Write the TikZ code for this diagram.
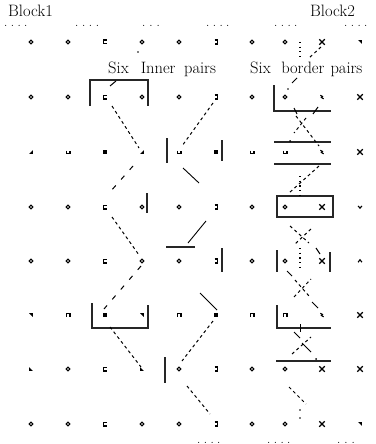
\documentclass[tikz,border=0pt]{standalone}
\usetikzlibrary{shapes.misc}
\newcommand\seglink[4]{\coordinate (#2a) at (#3); \coordinate (#2b) at (#4); \draw[#1] (#2a) -- (#2b);}
\begin{document}
\begin{tikzpicture}[x=1pt,y=-1pt,
  lbl/.style={font=\fontsize{16.5}{18}\selectfont, inner sep=0pt, anchor=base west},
  dots/.style={font=\fontsize{12}{12}\selectfont, inner sep=0pt, anchor=base west},
  mk/.style={inner sep=0pt, minimum size=6.5pt},
  dia/.style={circle, draw, inner sep=0pt, minimum size=3.8pt, line width=1.1pt},
  sqm/.style={rectangle, fill, inner sep=0pt, minimum size=3.6pt},
  crs/.style={cross out, draw, inner sep=0pt, minimum size=4.4pt, line width=1.1pt},
  ebr/.style={mk, path picture={\draw[line width=1.2pt] ([shift={(1.5pt,1.9pt)}]path picture bounding box.center) -- ++(-2.8pt,0pt) -- ++(0pt,-3.8pt) -- ++(2.8pt,0pt);}},
  rbr/.style={mk, path picture={\draw[line width=1.3pt] ([shift={(-1.5pt,1.9pt)}]path picture bounding box.center) -- ++(2.8pt,0pt) -- ++(0pt,-3.8pt) -- ++(-2.8pt,0pt);}},
  shm/.style={mk, path picture={\draw[line width=1.2pt] ([shift={(-1.9pt,1.5pt)}]path picture bounding box.center) -- ++(0pt,-3pt) -- ++(3.8pt,0pt) -- ++(0pt,3pt);}},
  pim/.style={mk, path picture={\draw[line width=1.2pt] ([shift={(-1.9pt,-1.5pt)}]path picture bounding box.center) -- ++(0pt,3pt) -- ++(3.8pt,0pt) -- ++(0pt,-3pt);}},
  tru/.style={mk, path picture={\fill ([shift={(-1.9pt,1.9pt)}]path picture bounding box.center) -- ++(3.8pt,0pt) -- ++(0pt,-3.8pt) -- cycle;}},
  trs/.style={mk, path picture={\fill ([shift={(1.9pt,1.9pt)}]path picture bounding box.center) -- ++(0pt,-3.8pt) -- ++(-3.8pt,0pt) -- cycle;}},
  trl/.style={mk, path picture={\fill ([shift={(-1.9pt,1.9pt)}]path picture bounding box.center) -- ++(0pt,-3.8pt) -- ++(3.8pt,0pt) -- cycle;}},
  hk/.style={mk, path picture={\draw[line width=1.1pt] ([shift={(-1.7pt,1.7pt)}]path picture bounding box.center) -- ++(2.2pt,-1.1pt) -- ++(-1.1pt,-1.1pt) -- ++(2.3pt,-1.3pt);}},
  vv/.style={mk, path picture={\draw[line width=1.1pt] ([shift={(-1.9pt,1.1pt)}]path picture bounding box.center) -- ++(1.9pt,-2.3pt) -- ++(1.9pt,2.3pt);}},
  aa/.style={mk, path picture={\draw[line width=1.1pt] ([shift={(-1.9pt,-1.2pt)}]path picture bounding box.center) -- ++(1.9pt,2.5pt) -- ++(1.9pt,-2.5pt);}},
  barl/.style={line width=1.5pt, black!85},
  sln/.style={line width=0.9pt},
  dsh/.style={line width=1pt, dash pattern=on 3pt off 3pt},
  cdsh/.style={line width=1pt, dash pattern=on 5pt off 8pt},
  dott/.style={line width=1.1pt, dash pattern=on 1.1pt off 3.6pt},
  tk/.style={line width=1pt}]
\useasboundingbox (0,0) rectangle (375,444);

% labels
\node[lbl] (blk1) at (8,17) {Block1};
\node[lbl] (blk2) at (310,17) {Block2};
\node[lbl] (inner) at (108,74) {Six\hspace{12pt}Inner\hspace{8.5pt}pairs};
\node[lbl] (border) at (250,74) {Six\hspace{10.5pt}border\hspace{6pt}pairs};

% dotted text
\node[dots] (td1) at (4,27) {.\kern3.4pt.\kern3.4pt.\kern3.4pt.};
\node[dots] (td2) at (75,27) {.\kern3.6pt.\kern3.6pt.\kern3.6pt.};
\node[dots] (td3) at (142,27) {.\kern4pt.\kern4pt.};
\node[dots] (td4) at (206,27) {.\kern3.4pt.\kern3.4pt.\kern3.4pt.};
\node[dots] (td5) at (274,27) {.\kern3.4pt.\kern3.4pt.\kern3.4pt.};
\node[dots] (td6) at (344,27) {.\kern3.4pt.\kern3.4pt.\kern3.4pt.};
\node[dots] (bd1) at (197,443) {.\kern3.4pt.\kern3.4pt.\kern3.4pt.};
\node[dots] (bd2) at (267,443) {.\kern3.4pt.\kern3.4pt.\kern3.4pt.};
\node[dots] (bd3) at (337,443) {.\kern4pt.\kern4pt.};

% lattice markers
\foreach \r/\y/\lst in {
  1/42/{dia,dia,ebr,dia,dia,rbr,dia,dia,crs,tru},
  2/97/{dia,dia,ebr,dia,dia,rbr,dia,dia,hk,crs},
  3/152/{trs,shm,sqm,trs,shm,sqm,shm,shm,hk,crs},
  4/207/{dia,dia,ebr,dia,dia,rbr,dia,dia,crs,vv},
  5/261/{dia,dia,ebr,dia,dia,rbr,dia,dia,crs,aa},
  6/315/{tru,pim,sqm,tru,pim,sqm,pim,pim,hk,crs},
  7/369/{trl,dia,ebr,trl,dia,rbr,dia,dia,crs,crs},
  8/424/{dia,dia,ebr,dia,dia,rbr,dia,dia,crs,tru}}{
  \foreach \s [count=\c] in \lst {
    \pgfmathsetmacro\xx{{31,68,105,142,179,216,252,285,322,360}[\c-1]}
    \node[\s] (r\r c\c) at (\xx,\y) {};
  }
}

% left pair brackets
\draw[barl] (90,106) -- (90,80) -- (148,80) -- (148,106);
\draw[barl] (92,303) -- (92,328) -- (148,328) -- (148,305);
\draw[barl] (167,138) -- (167,163);
\draw[barl] (222,140) -- (222,161);
\draw[barl] (147,193) -- (147,213);
\draw[barl] (166,247) -- (195,247);
\draw[barl] (222,248) -- (222,272);
\draw[barl] (165,357) -- (165,383);

% left zigzag
\fill (138,52) circle (0.8pt);
\seglink{tk}{d1}{110,86}{116,81}
\seglink{dsh}{d2}{112,106}{139,148}
\seglink{cdsh}{d3}{133,166}{110,192}
\seglink{dsh}{d4}{112,217}{139,255}
\seglink{cdsh}{d5}{141,266}{104,309}
\seglink{dsh}{d6}{110,327}{141,367}

% middle zigzag
\seglink{dsh}{d7}{213,103}{182,146}
\seglink{sln}{s1}{183,168}{199,183}
\seglink{sln}{s2}{206,221}{188,243}
\seglink{sln}{s3}{200,293}{217,310}
\seglink{dsh}{d9}{213,321}{182,361}
\seglink{dsh}{d10}{187,386}{210,414}

% border pairs
\draw[barl] (274,85) -- (274,111) -- (331,111);
\draw[barl] (274,142) -- (331,142);
\draw[barl] (274,164) -- (331,164);
\draw[barl] (277,196) rectangle (333,217);
\draw[barl] (277,250) -- (277,272);
\draw[barl] (330,252) -- (330,272);
\draw[barl] (277,305) -- (277,328) -- (331,328);
\draw[barl] (276,361) -- (331,361);

\seglink{dott}{r1}{300,42}{300,58}
\seglink{dsh}{r2}{321,47}{309,58}
\seglink{tk}{r3}{297,78}{292,83}
\fill (288,89) circle (0.8pt);
\seglink{tk}{t1}{294,108}{297,114}
\seglink{tk}{t2}{318,107}{313,114}
\seglink{dsh}{r4}{296,116}{319,146}
\seglink{dsh}{r4x}{306,118}{294,133}
\fill (290,141) circle (1pt);
\seglink{dsh}{r5}{319,166}{289,193}
\seglink{dott}{r6}{300,176}{300,198}
\seglink{dsh}{r8}{290,226}{309,243}
\seglink{dsh}{r9}{311,229}{295,244}
\seglink{dott}{r10}{300,248}{300,268}
\seglink{tk}{r11}{316,248}{320,254}
\seglink{tk}{r12}{287,271}{292,276}
\seglink{dsh}{r13}{294,297}{311,279}
\seglink{dsh}{r13x}{295,280}{309,296}
\seglink{tk}{r14}{312,302}{318,308}
\seglink{tk}{t3}{300,324}{300,332}
\seglink{tk}{r16}{294,332}{300,338}
\seglink{dsh}{r17}{292,354}{311,337}
\seglink{tk}{r17x}{302,343}{311,352}
\fill (316,359) circle (1pt);
\seglink{dsh}{r19}{289,387}{306,404}
\fill (300,410) circle (0.8pt);
\fill (300,418) circle (0.8pt);
\end{tikzpicture}
\end{document}
